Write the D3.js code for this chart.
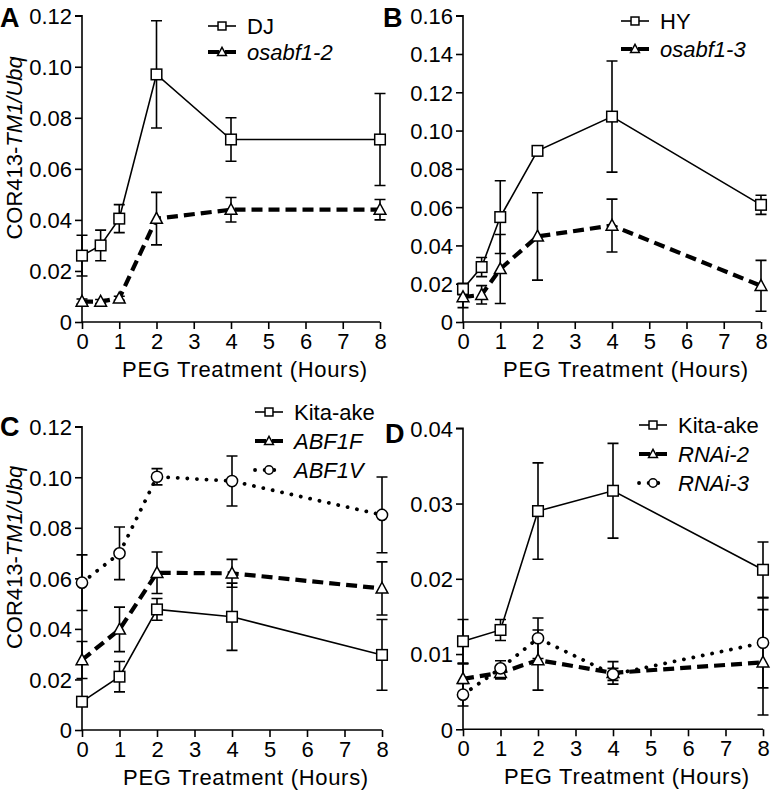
<!DOCTYPE html>
<html><head><meta charset="utf-8">
<script src="https://cdn.jsdelivr.net/npm/d3@7"></script>
<style>body{margin:0;background:#fff}svg{display:block}text{font-family:"Liberation Sans",Arial,sans-serif;fill:#000}</style>
</head><body><svg id="c" width="771" height="791"></svg>
<script>
// ---- data ----
const xTicks = [0,1,2,3,4,5,6,7,8];
const timesAB = [0,0.5,1,2,4,8];
const timesCD = [0,1,2,4,8];

const A_DJ = [0.026,0.030,0.0405,0.097,0.0715,0.0715];
const A_DJ_err = [0.008,0.006,0.0055,0.021,0.0085,0.018];
const A_osabf12 = [0.008,0.008,0.0093,0.0405,0.044,0.044];
const A_osabf12_err = [0.001,0.0008,0.0008,0.0103,0.0048,0.004];
const A_yTicks = [0,0.02,0.04,0.06,0.08,0.10,0.12];

const B_HY = [0.0172,0.0287,0.0548,0.0894,0.1073,0.0612];
const B_HY_err = [0.003,0.005,0.019,0.0015,0.029,0.005];
const B_osabf13 = [0.013,0.0142,0.0277,0.0447,0.0504,0.0189];
const B_osabf13_err = [0.0055,0.0048,0.018,0.0228,0.0138,0.0133];
const B_yTicks = [0,0.02,0.04,0.06,0.08,0.10,0.12,0.14,0.16];

const C_Kita = [0.0112,0.0211,0.0477,0.0448,0.0297];
const C_Kita_err = [0.0015,0.006,0.0043,0.0133,0.014];
const C_ABF1F = [0.0277,0.0398,0.0622,0.062,0.056];
const C_ABF1F_err = [0.0073,0.0088,0.0082,0.0055,0.0105];
const C_ABF1V = [0.0583,0.0699,0.1002,0.0985,0.0851];
const C_ABF1V_err = [0.011,0.0104,0.0032,0.0099,0.015];
const C_yTicks = [0,0.02,0.04,0.06,0.08,0.10,0.12];

const D_Kita = [0.0117,0.0132,0.029,0.0317,0.0212];
const D_Kita_err = [0.0029,0.0014,0.0064,0.0063,0.0037];
const D_RNAi2 = [0.0067,0.0075,0.0092,0.0075,0.0089];
const D_RNAi2_err = [0.002,0.0008,0.004,0.0015,0.007];
const D_RNAi3 = [0.0046,0.0081,0.0121,0.0073,0.0115];
const D_RNAi3_err = [0.0015,0.001,0.0027,0.0008,0.006];
const D_yTicks = [0,0.01,0.02,0.03,0.04];

// ---- styles ----
const STY = {
  solid:  {w:1.6, dash:null, cap:"butt", marker:"square"},
  dashed: {w:4.2, dash:"11,6", cap:"butt", marker:"triangle"},
  dotted: {w:3.8, dash:"0.1,9.5", cap:"round", marker:"circle"}
};

const svg = d3.select("#c");

function marker(g, type, cx, cy, k) {
  k = k || 1;
  if (type === "square") {
    const h = 5.3*k;
    g.append("rect").attr("x",cx-h).attr("y",cy-h).attr("width",2*h).attr("height",2*h)
      .attr("fill","#fff").attr("stroke","#000").attr("stroke-width",1.5);
  } else if (type === "triangle") {
    const s = 6.2*k;
    g.append("path").attr("d",`M${cx},${cy-s}L${cx+s*0.95},${cy+s*0.75}L${cx-s*0.95},${cy+s*0.75}Z`)
      .attr("fill","#fff").attr("stroke","#000").attr("stroke-width",1.5);
  } else {
    g.append("circle").attr("cx",cx).attr("cy",cy).attr("r",5.6*k)
      .attr("fill","#fff").attr("stroke","#000").attr("stroke-width",1.5);
  }
}

function panel(o) {
  const g = svg.append("g");
  const x = d3.scaleLinear().domain([0,8]).range([o.x0,o.x1]);
  const y = d3.scaleLinear().domain([0,o.yMax]).range([o.y0,o.y1]);
  // y axis
  const ya = d3.axisLeft(y).tickValues(o.yTicks).tickSize(7).tickPadding(3)
    .tickFormat(v => v===0 ? "0" : v.toFixed(2));
  const yg = g.append("g").attr("transform",`translate(${o.x0},0)`).call(ya);
  yg.selectAll("text").attr("font-size",22).attr("dy","0.36em");
  yg.selectAll("path,line").attr("stroke","#000").attr("stroke-width",1.6);
  yg.select(".domain").attr("d",`M${0},${o.y1}H-7V${o.y1}H0V${o.y0}`);
  // x axis
  const xa = d3.axisBottom(x).tickValues(xTicks).tickSize(7).tickPadding(4).tickFormat(d3.format("d"));
  const xg = g.append("g").attr("transform",`translate(0,${o.y0})`).call(xa);
  xg.selectAll("text").attr("font-size",22).attr("dy","0.72em");
  xg.selectAll("path,line").attr("stroke","#000").attr("stroke-width",1.6);
  xg.select(".domain").attr("d",`M${o.x0},0H${o.x1}`);
  g.selectAll(".tick text").attr("font-family",'"Liberation Sans",Arial,sans-serif');
  // x title
  g.append("text").attr("x",(o.x0+o.x1)/2+14).attr("y",o.y0+55).attr("text-anchor","middle")
    .attr("font-size",22).attr("letter-spacing","0.7px").text("PEG Treatment (Hours)");
  // y title
  if (o.ylab) {
    const t = g.append("text").attr("transform",`translate(${o.x0-60},${(o.y0+o.y1)/2-21}) rotate(-90)`)
      .attr("text-anchor","middle").attr("font-size",22);
    t.append("tspan").text("COR413-");
    t.append("tspan").attr("font-style","italic").text("TM1/Ubq");
  }
  // letter
  g.append("text").attr("x",o.lx).attr("y",o.ly).attr("font-size",27).attr("font-weight","bold").text(o.letter);
  // series: error bars
  o.series.forEach(s => {
    o.times.forEach((t,i) => {
      const cx = x(t), top = y(s.vals[i]+s.err[i]), bot = y(Math.max(0,s.vals[i]-s.err[i]));
      g.append("path").attr("d",`M${cx},${top}V${bot}M${cx-5.5},${top}H${cx+5.5}M${cx-5.5},${bot}H${cx+5.5}`)
        .attr("stroke","#000").attr("stroke-width",1.6).attr("fill","none");
    });
  });
  const lineGen = d3.line().x(d=>x(d[0])).y(d=>y(d[1]));
  o.series.forEach(s => {
    const st = STY[s.style];
    const pts = o.times.map((t,i)=>[t,s.vals[i]]);
    g.append("path").attr("d",lineGen(pts)).attr("fill","none").attr("stroke","#000")
      .attr("stroke-width",st.w).attr("stroke-dasharray",st.dash).attr("stroke-linecap",st.cap);
  });
  o.series.forEach(s => {
    const st = STY[s.style];
    o.times.forEach((t,i)=> marker(g, st.marker, x(t), y(s.vals[i])));
  });
  // legend
  o.series.forEach((s,i) => {
    const st = STY[s.style];
    const ly = o.legY + i*o.legDy;
    g.append("path").attr("d",`M${o.legX},${ly}H${o.legX+28}`).attr("fill","none").attr("stroke","#000")
      .attr("stroke-width",st.w).attr("stroke-dasharray",st.dash).attr("stroke-linecap",st.cap);
    marker(g, st.marker, o.legX+14, ly, 0.75);
    g.append("text").attr("x",o.legX+39).attr("y",ly).attr("dy","0.36em").attr("font-size",22)
      .attr("font-style",s.italic?"italic":null).text(s.name);
  });
}

panel({letter:"A", lx:0, ly:27, x0:82, x1:380, y0:322, y1:15.7, yMax:0.12, yTicks:A_yTicks, times:timesAB, ylab:true,
  legX:208, legY:26, legDy:26,
  series:[{name:"DJ", vals:A_DJ, err:A_DJ_err, style:"solid"},
          {name:"osabf1-2", vals:A_osabf12, err:A_osabf12_err, style:"dashed", italic:true}]});
panel({letter:"B", lx:383, ly:27, x0:463, x1:761, y0:322, y1:15.7, yMax:0.16, yTicks:B_yTicks, times:timesAB, ylab:false,
  legX:621, legY:21, legDy:28,
  series:[{name:"HY", vals:B_HY, err:B_HY_err, style:"solid"},
          {name:"osabf1-3", vals:B_osabf13, err:B_osabf13_err, style:"dashed", italic:true}]});
panel({letter:"C", lx:0, ly:436, x0:82, x1:382, y0:730, y1:426.7, yMax:0.12, yTicks:C_yTicks, times:timesCD, ylab:true,
  legX:255, legY:412, legDy:29,
  series:[{name:"Kita-ake", vals:C_Kita, err:C_Kita_err, style:"solid"},
          {name:"ABF1F", vals:C_ABF1F, err:C_ABF1F_err, style:"dashed", italic:true},
          {name:"ABF1V", vals:C_ABF1V, err:C_ABF1V_err, style:"dotted", italic:true}]});
panel({letter:"D", lx:385, ly:443, x0:463, x1:763, y0:729.3, y1:428.3, yMax:0.04, yTicks:D_yTicks, times:timesCD, ylab:false,
  legX:639, legY:425, legDy:29,
  series:[{name:"Kita-ake", vals:D_Kita, err:D_Kita_err, style:"solid"},
          {name:"RNAi-2", vals:D_RNAi2, err:D_RNAi2_err, style:"dashed", italic:true},
          {name:"RNAi-3", vals:D_RNAi3, err:D_RNAi3_err, style:"dotted", italic:true}]});
</script></body></html>
